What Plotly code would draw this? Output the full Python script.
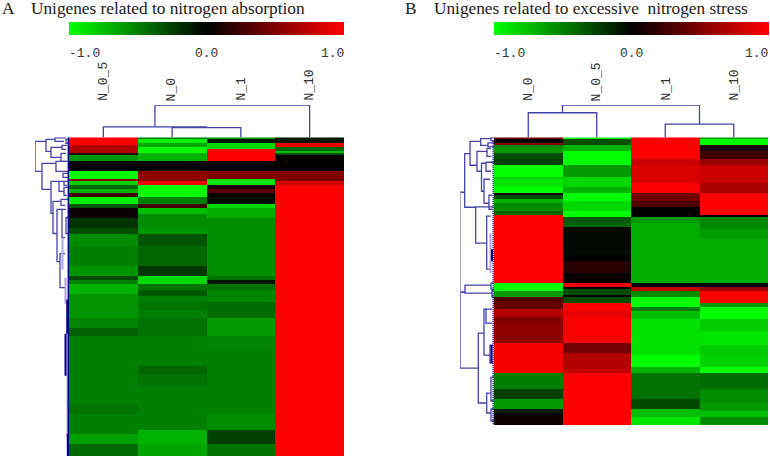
import numpy as np
import plotly.graph_objects as go

W, H = 770, 458

a_labels = ["N_0_5", "N_0", "N_1", "N_10"]
b_labels = ["N_0", "N_0_5", "N_1", "N_10"]
a_rows = 159
b_rows = 144

# each column is a list of (last row of the band, value)
a_n05 = [(4, 1.0), (8, 0.7), (9, 0.1), (12, -0.6), (17, 0.0), (21, -1.0), (22, 0.5), (24, -0.8),
         (26, -0.4), (28, -0.7), (30, 0.25), (33, -0.95), (35, -0.35), (40, 0.05), (45, -0.2),
         (48, -0.3), (51, -0.55), (54, -0.55), (64, -0.5), (69, -0.58), (71, -0.3), (73, -0.5),
         (78, -0.7), (90, -0.58), (95, -0.52), (99, -0.38), (133, -0.5), (138, -0.45), (148, -0.5),
         (153, -0.62), (159, -0.42)]
a_n0 = [(1, -0.5), (3, -0.95), (5, -0.65), (8, -1.0), (12, -0.7), (17, 0.0), (22, 0.55), (24, 0.95),
        (30, -1.0), (33, -0.5), (35, 0.25), (38, -0.75), (45, -0.55), (48, -0.6), (54, -0.33),
        (64, -0.4), (69, -0.22), (73, -0.85), (76, -0.45), (79, -0.35), (82, -0.5), (86, -0.45),
        (90, -0.5), (99, -0.45), (114, -0.5), (118, -0.4), (124, -0.45), (146, -0.5), (153, -0.7),
        (159, -0.65)]
a_n1 = [(1, -0.6), (3, -0.1), (6, -0.85), (12, 1.0), (17, 0.0), (21, 0.5), (24, -0.9), (26, 0.1),
        (28, 0.35), (30, 0.0), (33, -0.05), (35, -0.85), (40, -0.68), (69, -0.56), (71, -0.45),
        (73, -0.08), (76, -0.45), (82, -0.52), (90, -0.42), (99, -0.6), (106, -0.52), (138, -0.5),
        (146, -0.55), (153, -0.25), (159, -0.45)]
a_n10 = [(3, -0.1), (5, 0.9), (7, -0.4), (8, -0.75), (9, -0.3), (17, 0.0), (22, 0.5), (24, 0.8), (159, 1.0)]

b_n0 = [(1, 0.5), (3, 0.02), (4, 0.5), (6, -0.55), (8, -0.6), (11, -0.3), (14, -0.25), (20, -1.0),
        (21, -0.8), (25, -0.9), (28, -1.0), (29, 0.0), (31, -0.3), (33, -0.7), (37, -0.55), (39, -0.4),
        (73, 1.0), (77, -1.0), (80, -0.6), (82, 0.3), (86, 0.4), (90, 0.7), (92, 0.5), (103, 0.55),
        (118, 0.97), (126, -0.5), (131, -0.25), (136, -0.6), (138, -0.1), (144, 0.06)]
b_n05 = [(1, -1.0), (4, -0.3), (7, -0.7), (14, -1.0), (20, -0.6), (25, -0.85), (28, -0.7), (32, -1.0),
         (37, -0.85), (40, -1.0), (43, -0.35), (45, -0.4), (59, -0.03), (62, 0.0), (68, 0.15), (73, 0.03),
         (75, 0.95), (76, 0.02), (79, -0.3), (80, -0.02), (83, -0.3), (87, 1.0), (90, 0.9), (103, 1.0),
         (108, 0.45), (116, 0.7), (118, 0.75), (144, 1.0)]
b_n1 = [(11, 1.0), (14, 0.8), (23, 0.85), (28, 1.0), (32, 0.45), (35, 0.3), (40, 0.0), (43, -0.6),
        (73, -0.68), (75, 0.0), (77, 0.75), (80, -0.55), (85, -1.0), (87, -0.5), (91, -0.75), (109, -0.89),
        (115, -1.0), (118, -0.7), (131, -0.45), (136, -0.28), (140, -0.75), (144, -0.9)]
b_n10 = [(1, -0.6), (4, -1.0), (7, 0.1), (11, 0.25), (14, 0.6), (23, 0.8), (28, 0.65), (39, 1.0), (40, 0.0),
         (46, -0.52), (51, -0.62), (73, -0.68), (75, 0.0), (77, 0.6), (83, 1.0), (85, -0.6), (91, -1.0),
         (97, -0.8), (104, -0.9), (110, -0.8), (115, -0.82), (118, -1.0), (126, -0.42), (133, -0.55),
         (137, -0.6), (140, -0.75), (144, -0.55)]

# column trees: (left col, right col, left height, right height, height)
a_col_tree = [(1, 2, 0, 0, 0.3), (0, 1.5, 0, 0.3, 0.32), (0.75, 3, 0.32, 0, 1.0)]
b_col_tree = [(0, 1, 0, 0, 0.76), (2, 3, 0, 0, 0.41), (0.5, 2.5, 0.76, 0.41, 1.0)]

# row trees: (top row, bottom row, top distance, bottom distance, distance)
a_row_tree = [(2, 17, 23, 27, 34), (1, 7, 14, 18, 23), (0.3, 2, 3, 5, 14), (1, 3, 0, 0, 3), (5, 10, 7, 8, 18),
              (4, 6, 2, 3, 7), (8, 12, 3, 3, 8), (13, 26, 13, 18, 27), (12, 17, 0, 0, 13), (18, 20, 0, 0, 6),
              (22, 38, 10, 16, 18), (22, 27, 5, 5, 10), (22, 24, 0, 2, 5), (25, 29, 0, 2, 5),
              (32, 48, 8, 12, 16), (31, 34, 0, 4, 8), (36, 62, 7, 9, 12), (36, 50, 3, 4, 7), (40, 48, 0, 1, 3),
              (58, 75, 4, 3, 9)]
a_light = [(50, 66, 6.5), (70, 83, 3.5), (98, 150, 1.5)]
a_dense = [(81, 98, 1.8), (98, 119, 3.5), (148, 159, 1.2), (0, 159, 0.4)]

b_row_tree = [(27.5, 77.5, 29.3, 29, 34), (77.5, 115.5, 29, 15.7, 34), (8.2, 35, 24, 18.3, 29.3),
              (2, 14, 13.3, 17, 24), (0.7, 4, 3, 6, 13.3), (0.3, 1.7, 0, 0, 3), (2.8, 4.8, 0, 0, 6),
              (7, 17, 7, 12.5, 17), (5.5, 9.5, 3, 3, 7), (13, 27, 8, 10, 12.5), (12.5, 17, 0, 3, 8),
              (21, 33, 4, 5, 10), (29, 36, 2, 2, 5), (34.8, 53, 0.7, 7.3, 18.3), (39.5, 66, 3, 3, 7.3),
              (74, 78, 3, 2, 29), (73, 76, 0, 0, 3), (76.5, 80, 0, 0, 2), (98, 133, 10, 7.3, 15.7),
              (86, 109, 8, 4, 10), (86, 93, 2, 2, 8), (104, 113, 1, 1, 4), (128, 138, 3, 3, 7.3),
              (120, 132, 0, 0, 3), (136, 142, 0, 0, 3)]
b_light = [(27.5, 77.5, 34), (48, 68, 3.5)]
b_dense = [(104, 113, 2.5), (56, 62, 2)]


def expand(runs, n):
    vals = []
    for end, v in runs:
        vals += [v] * (end - len(vals))
    return vals[:n]


def col_tree_path(tree):
    xs, ys = [], []
    for c0, c1, h0, h1, h in tree:
        xs += [c0, c0, c1, c1, None]
        ys += [h0, h, h, h1, None]
    return xs, ys


def row_tree_path(tree):
    xs, ys = [], []
    for r0, r1, d0, d1, d in tree:
        xs += [d0, d, d, d1, None]
        ys += [r0, r0, r1, r1, None]
    return xs, ys


def vertical_path(lines):
    xs, ys = [], []
    for r0, r1, d in lines:
        xs += [d, d, None]
        ys += [r0, r1, None]
    return xs, ys


fig = go.Figure()
scale = [[0, "#00ff00"], [0.5, "#000000"], [1, "#ff0000"]]
line_col = "#4343a8"


def add_panel(idx, columns, n, col_tree, row_tree, light, dense, bar_left):
    xa, ya = ("x", "y") if idx == 0 else ("x3", "y3")
    xd, yd = ("x2", "y2") if idx == 0 else ("x4", "y4")
    z = np.array([expand(c, n) for c in columns]).T
    fig.add_trace(go.Heatmap(
        z=z, x=[0, 1, 2, 3], y=np.arange(n) + 0.5, xaxis=xa, yaxis=ya,
        colorscale=scale, zmin=-1, zmax=1, showscale=True, hoverinfo="skip",
        colorbar=dict(
            orientation="h", x=bar_left / W, xanchor="left", y=1 - 35 / H, yanchor="bottom",
            len=275, lenmode="pixels", thickness=13, thicknessmode="pixels",
            xpad=0, ypad=0, outlinewidth=0, showticklabels=False, ticks="",
        ),
    ))
    xs, ys = col_tree_path(col_tree)
    fig.add_trace(go.Scatter(x=xs, y=ys, xaxis=xa, yaxis=yd, mode="lines", line=dict(color=line_col, width=1.3)))
    xs, ys = row_tree_path(row_tree)
    fig.add_trace(go.Scatter(x=xs, y=ys, xaxis=xd, yaxis=ya, mode="lines", line=dict(color=line_col, width=1.3)))
    xs, ys = vertical_path(light)
    fig.add_trace(go.Scatter(x=xs, y=ys, xaxis=xd, yaxis=ya, mode="lines", line=dict(color="#a9a9dc", width=2)))
    xs, ys = vertical_path(dense)
    fig.add_trace(go.Scatter(x=xs, y=ys, xaxis=xd, yaxis=ya, mode="lines", line=dict(color="#00008b", width=2)))


add_panel(0, [a_n05, a_n0, a_n1, a_n10], a_rows, a_col_tree, a_row_tree, a_light, a_dense, 69)
add_panel(1, [b_n0, b_n05, b_n1, b_n10], b_rows, b_col_tree, b_row_tree, b_light, b_dense, 494)

# dotted leaf ends next to the B heatmap
fig.add_trace(go.Scatter(x=[0.6, 0.6], y=[2, b_rows], xaxis="x4", yaxis="y3", mode="lines",
                         line=dict(color="#00008b", width=2, dash="1px,1px")))


def dom_x(a, b):
    return [a / W, b / W]


def dom_y(top, bottom):
    return [1 - bottom / H, 1 - top / H]


hide = dict(visible=False, fixedrange=True)
fig.update_layout(
    width=W, height=H, margin=dict(l=0, r=0, t=0, b=0, autoexpand=False),
    paper_bgcolor="white", plot_bgcolor="white", showlegend=False,
    xaxis=dict(domain=dom_x(69, 344), range=[-0.5, 3.5], anchor="y", **hide),
    yaxis=dict(domain=dom_y(137.3, 456), range=[a_rows, 0], anchor="x", **hide),
    xaxis2=dict(domain=dom_x(35, 69), range=[34, 0], anchor="y", **hide),
    yaxis2=dict(domain=dom_y(105, 137.3), range=[0, 1], anchor="x", **hide),
    xaxis3=dict(domain=dom_x(494, 768), range=[-0.5, 3.5], anchor="y3", **hide),
    yaxis3=dict(domain=dom_y(137.3, 425), range=[b_rows, 0], anchor="x3", **hide),
    xaxis4=dict(domain=dom_x(460, 494), range=[34, 0], anchor="y3", **hide),
    yaxis4=dict(domain=dom_y(105, 137.3), range=[0, 1], anchor="x3", **hide),
)

serif = dict(family="Liberation Serif", size=17.3, color="#1a1a1a")
mono = dict(family="Liberation Mono", size=13, color="#333333")


def text(x, y, s, font, xanchor="left", yanchor="middle", angle=0):
    fig.add_annotation(x=x / W, y=1 - y / H, xref="paper", yref="paper", text=s, showarrow=False,
                       font=font, xanchor=xanchor, yanchor=yanchor, textangle=angle,
                       borderpad=0, borderwidth=0)


text(2, 8, "A", serif)
text(31, 8, "Unigenes related to nitrogen absorption", serif)
text(405, 8, "B", serif)
text(434, 8, "Unigenes related to excessive  nitrogen stress", serif)

for left, right in [(69, 344), (494, 768)]:
    text(left, 53, "-1.0", mono, "left")
    text((left + right) / 2, 53, "0.0", mono, "center")
    text(right, 53, "1.0", mono, "right")

for left, labels in [(69, a_labels), (494, b_labels)]:
    for i, lab in enumerate(labels):
        text(left + (i + 0.5) * 68.6, 101, lab, mono, "center", "bottom", -90)

# the page's default body margin would push the figure 8px off the 770x458 window
fig.write_html("out.html", config={"displayModeBar": False},
               post_script="document.body.style.margin = '0';")
